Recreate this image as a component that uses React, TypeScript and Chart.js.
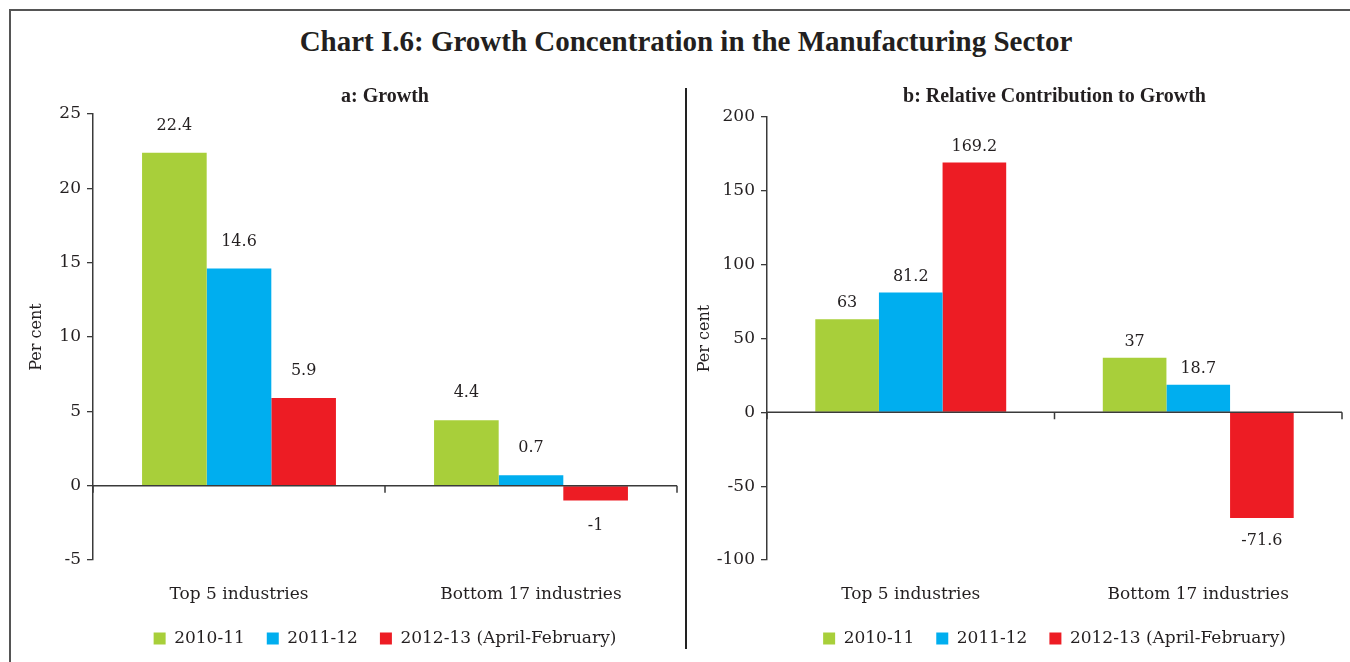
import React, { useEffect, useRef } from "react";
import { Chart, registerables } from "chart.js";

Chart.register(...registerables);

const FONT = "'DejaVu Serif', 'Liberation Serif', serif";
const BOLD_FONT = "'Liberation Serif', 'DejaVu Serif', serif";
const TEXT = "#231f20";

const categories = ["Top 5 industries", "Bottom 17 industries"];
const seriesLabels = ["2010-11", "2011-12", "2012-13 (April-February)"];
const seriesColors = ["#a8cf3a", "#00aeef", "#ed1c24"];

const growth201011 = [22.4, 4.4];
const growth201112 = [14.6, 0.7];
const growth201213 = [5.9, -1];

const contrib201011 = [63, 37];
const contrib201112 = [81.2, 18.7];
const contrib201213 = [169.2, -71.6];

const growthAxis = { min: -5, max: 25, step: 5 };
const contribAxis = { min: -100, max: 200, step: 50 };

const valueLabels = {
  id: "valueLabels",
  afterDatasetsDraw(chart: any, _args: any, opts: any) {
    const ctx = chart.ctx;
    ctx.save();
    ctx.font = `16px ${FONT}`;
    ctx.fillStyle = TEXT;
    ctx.textAlign = "center";
    ctx.textBaseline = "middle";
    chart.data.datasets.forEach((ds: any, di: number) => {
      const meta = chart.getDatasetMeta(di);
      meta.data.forEach((bar: any, i: number) => {
        const v = ds.data[i];
        const y = v >= 0 ? bar.y - opts.up : bar.y + opts.down;
        ctx.fillText(String(v), bar.x, y);
      });
    });
    ctx.restore();
  },
};

const zeroAxis = {
  id: "zeroAxis",
  afterDatasetsDraw(chart: any) {
    const ctx = chart.ctx;
    const area = chart.chartArea;
    const y0 = chart.scales.y.getPixelForValue(0);
    ctx.save();
    ctx.strokeStyle = "#3a3a3a";
    ctx.lineWidth = 1.5;
    ctx.beginPath();
    ctx.moveTo(area.left, y0);
    ctx.lineTo(area.right, y0);
    const n = chart.data.labels.length;
    const w = (area.right - area.left) / n;
    for (let i = 0; i <= n; i++) {
      const x = area.left + i * w;
      ctx.moveTo(x, y0);
      ctx.lineTo(x, y0 + 7);
    }
    ctx.stroke();
    ctx.restore();
  },
};

function buildConfig(
  title: string,
  values: number[][],
  axis: { min: number; max: number; step: number },
  yWidth: number,
  yTitlePad: number,
  titlePad: { top: number; bottom: number },
  upOffset: number,
  downOffset: number,
  xHeight: number
): any {
  return {
    type: "bar",
    data: {
      labels: categories,
      datasets: values.map((vals, i) => ({
        label: seriesLabels[i],
        data: vals,
        backgroundColor: seriesColors[i],
        borderWidth: 0,
        categoryPercentage: 0.664,
        barPercentage: 1,
      })),
    },
    options: {
      responsive: false,
      animation: false,
      layout: { padding: { left: 0, right: 6, top: 0, bottom: 3 } },
      plugins: {
        title: {
          display: true,
          text: title,
          fullSize: false,
          color: TEXT,
          font: { family: BOLD_FONT, size: 20, weight: "bold" },
          padding: titlePad,
        },
        legend: {
          display: true,
          position: "bottom",
          fullSize: false,
          labels: {
            color: TEXT,
            boxWidth: 12,
            boxHeight: 12,
            padding: 22,
            font: { family: FONT, size: 17 },
          },
        },
        tooltip: { enabled: false },
        valueLabels: { up: upOffset, down: downOffset },
      },
      scales: {
        x: {
          offset: true,
          afterFit: (scale: any) => {
            scale.height = xHeight;
          },
          grid: { display: false, drawTicks: false },
          border: { display: false },
          ticks: {
            color: TEXT,
            padding: 24,
            autoSkip: false,
            maxRotation: 0,
            font: { family: FONT, size: 17 },
          },
        },
        y: {
          min: axis.min,
          max: axis.max,
          afterFit: (scale: any) => {
            scale.width = yWidth;
          },
          ticks: {
            stepSize: axis.step,
            color: TEXT,
            padding: 6,
            font: { family: FONT, size: 17 },
          },
          grid: {
            drawOnChartArea: false,
            drawTicks: true,
            tickLength: 6,
            color: "#3a3a3a",
            lineWidth: 1.3,
          },
          border: { display: true, color: "#3a3a3a", width: 1.5 },
          title: {
            display: true,
            text: "Per cent",
            color: TEXT,
            font: { family: FONT, size: 16 },
            padding: { top: yTitlePad, bottom: 0 },
          },
        },
      },
    },
    plugins: [valueLabels, zeroAxis],
  };
}

function BarPanel(props: { config: any; width: number; height: number; left: number; top: number }) {
  const ref = useRef<HTMLCanvasElement | null>(null);
  useEffect(() => {
    if (!ref.current) return;
    const chart = new Chart(ref.current, props.config);
    return () => chart.destroy();
  }, []);
  return (
    <canvas
      ref={ref}
      width={props.width}
      height={props.height}
      style={{ position: "absolute", left: props.left, top: props.top, width: props.width, height: props.height }}
    />
  );
}

export default function App() {
  const leftConfig = buildConfig(
    "a: Growth",
    [growth201011, growth201112, growth201213],
    growthAxis,
    81,
    15,
    { top: 15, bottom: 5 },
    27,
    25,
    48
  );
  const rightConfig = buildConfig(
    "b: Relative Contribution to Growth",
    [contrib201011, contrib201112, contrib201213],
    contribAxis,
    77,
    5,
    { top: 15, bottom: 8 },
    16,
    23,
    48
  );
  return (
    <div
      style={{
        position: "absolute",
        left: 0,
        top: 0,
        width: 1350,
        height: 662,
        background: "#fff",
        overflow: "hidden",
        fontFamily: BOLD_FONT,
      }}
    >
      <div
        style={{
          position: "absolute",
          left: 9,
          top: 9,
          right: -10,
          bottom: -10,
          borderTop: "2px solid #555",
          borderLeft: "2px solid #555",
        }}
      />
      <div
        style={{
          position: "absolute",
          left: 0,
          width: 1372,
          top: 24,
          textAlign: "center",
          fontSize: 29,
          fontWeight: "bold",
          color: TEXT,
          lineHeight: "34px",
        }}
      >
        Chart I.6: Growth Concentration in the Manufacturing Sector
      </div>
      <div
        style={{
          position: "absolute",
          left: 685,
          top: 88,
          width: 2,
          height: 561,
          background: "#222",
        }}
      />
      <BarPanel config={leftConfig} left={12} top={70} width={671} height={590} />
      <BarPanel config={rightConfig} left={690} top={70} width={658} height={590} />
    </div>
  );
}
